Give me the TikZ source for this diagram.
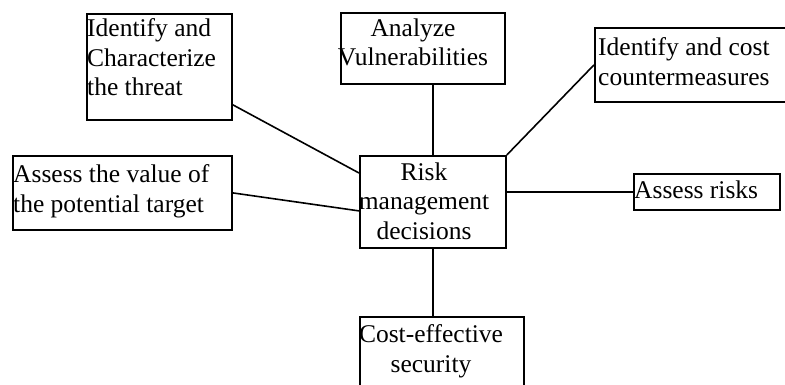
\documentclass[tikz,border=0pt]{standalone}
\usepackage{fontspec}
\setmainfont{Liberation Serif}
\begin{document}
\begin{tikzpicture}[x=1pt, y=-1pt]
		\tikzset{bx/.style={rectangle, draw=black, line width=1.8pt, inner sep=0pt, anchor=north west}};
		\tikzset{lbl/.style={inner sep=0pt, font=\fontsize{25.5}{29.5}\selectfont}};
		\tikzset{cn/.style={draw=black, line width=1.6pt}};

		\useasboundingbox (0,0) rectangle (785,385);

		\node[bx, minimum width=145pt, minimum height=106pt] (threat) at (86, 13) {};
		\node[bx, minimum width=164pt, minimum height=71pt] (analyze) at (340, 12) {};
		\node[bx, minimum width=192pt, minimum height=74pt] (counter) at (594, 27) {};
		\node[bx, minimum width=219pt, minimum height=74pt] (value) at (12, 155) {};
		\node[bx, minimum width=146pt, minimum height=92pt] (risk) at (359, 155) {};
		\node[bx, minimum width=146pt, minimum height=36pt] (assess) at (633, 173) {};
		\node[bx, minimum width=164pt, minimum height=74pt] (cost) at (359, 316) {};

		\node[lbl, anchor=north west, align=left] (threattxt) at (87, 18.6) {Identify and\\Characterize\\the threat};
		\node[lbl, anchor=north, align=center] (analyzetxt) at (413, 18.6) {Analyze\\Vulnerabilities};
		\node[lbl, anchor=north west, align=left] (countertxt) at (598, 37.6) {Identify and cost\\countermeasures};
		\node[lbl, anchor=north west, align=left] (valuetxt) at (13, 164.6) {Assess the value of\\the potential target};
		\node[lbl, anchor=north, align=center] (risktxt) at (424, 162.6) {Risk\\management\\decisions};
		\node[lbl, anchor=north west] (assesstxt) at (634, 180.6) {Assess risks};
		\node[lbl, anchor=north, align=center] (costtxt) at (431, 324.6) {Cost-effective\\security};

		\draw[cn] ([yshift=16pt]threat.south east) to ([yshift=-18pt]risk.north west);
		\draw[cn] (value.east) to ([yshift=-9pt]risk.west);

		\draw[cn] (risk.north) to (risk.north |- analyze.south);
		\draw[cn] (risk.north east) to (counter.west);
		\draw[cn] (risk.east |- assess.west) to (assess.west);
		\draw[cn] (risk.south) to (risk.south |- cost.north);

	\end{tikzpicture}
\end{document}
